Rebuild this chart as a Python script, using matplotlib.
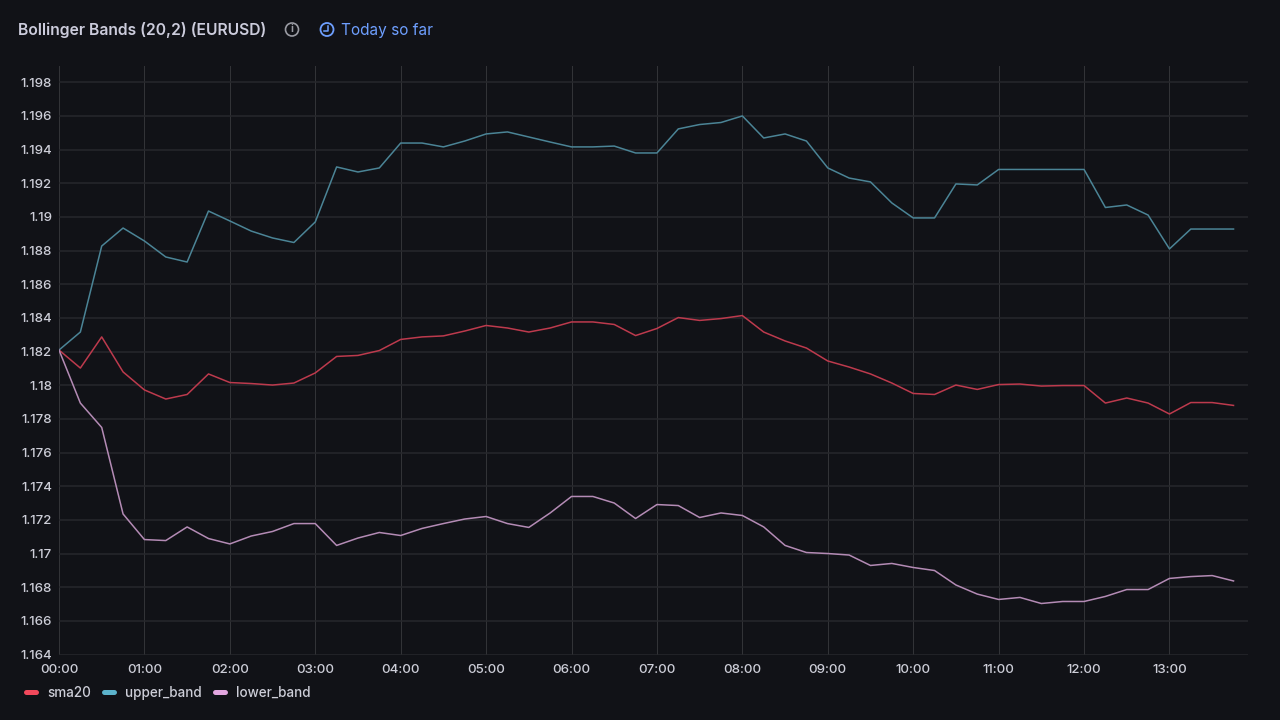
import matplotlib
matplotlib.use("Agg")
import matplotlib.pyplot as plt
from matplotlib.lines import Line2D
from matplotlib.patches import Ellipse

plt.rcParams['font.family'] = ['Inter', 'DejaVu Sans']

W, H = 1280, 720
BG = "#111217"

# hours since midnight, one sample every 15 minutes
hours = [i * 0.25 for i in range(56)]

sma20 = [1.18209, 1.18102, 1.18287, 1.18079, 1.17972, 1.17918, 1.17945, 1.18067,
         1.18016, 1.18010, 1.18001, 1.18013, 1.18073, 1.18171, 1.18177, 1.18206,
         1.18272, 1.18287, 1.18293, 1.18322, 1.18355, 1.18340, 1.18316, 1.18340,
         1.18376, 1.18376, 1.18361, 1.18295, 1.18337, 1.18402, 1.18385, 1.18396,
         1.18414, 1.18316, 1.18263, 1.18221, 1.18144, 1.18108, 1.18067, 1.18013,
         1.17951, 1.17945, 1.18001, 1.17975, 1.18004, 1.18007, 1.17995, 1.17998,
         1.17998, 1.17894, 1.17924, 1.17894, 1.17829, 1.17897, 1.17897, 1.17880]

upper_band = [1.18209, 1.18316, 1.18827, 1.18934, 1.18857, 1.18762, 1.18732, 1.19035,
              1.18976, 1.18916, 1.18875, 1.18848, 1.18970, 1.19297, 1.19267, 1.19291,
              1.19439, 1.19439, 1.19416, 1.19451, 1.19493, 1.19505, 1.19475, 1.19445,
              1.19416, 1.19416, 1.19421, 1.19380, 1.19380, 1.19523, 1.19549, 1.19561,
              1.19600, 1.19469, 1.19493, 1.19451, 1.19291, 1.19231, 1.19208, 1.19083,
              1.18994, 1.18994, 1.19196, 1.19190, 1.19282, 1.19282, 1.19282, 1.19282,
              1.19282, 1.19056, 1.19071, 1.19011, 1.18810, 1.18928, 1.18928, 1.18928]

lower_band = [1.18209, 1.17894, 1.17749, 1.17235, 1.17083, 1.17077, 1.17158, 1.17089,
              1.17057, 1.17104, 1.17131, 1.17178, 1.17178, 1.17048, 1.17092, 1.17125,
              1.17107, 1.17149, 1.17178, 1.17205, 1.17220, 1.17178, 1.17155, 1.17241,
              1.17339, 1.17339, 1.17300, 1.17208, 1.17291, 1.17285, 1.17214, 1.17241,
              1.17226, 1.17158, 1.17048, 1.17006, 1.17000, 1.16991, 1.16929, 1.16941,
              1.16917, 1.16899, 1.16813, 1.16759, 1.16727, 1.16739, 1.16703, 1.16715,
              1.16715, 1.16745, 1.16786, 1.16786, 1.16852, 1.16863, 1.16869, 1.16837]

x_ticks = list(range(14))
x_labels = [f"{h:02d}:00" for h in x_ticks]
y_ticks = [1.164, 1.166, 1.168, 1.17, 1.172, 1.174, 1.176, 1.178, 1.18, 1.182,
           1.184, 1.186, 1.188, 1.19, 1.192, 1.194, 1.196, 1.198]
y_labels = [f"{v:g}" for v in y_ticks]

series_names = ["sma20", "upper_band", "lower_band"]
line_colors = ["#bd3a4d", "#4b8496", "#b48bb5"]
legend_colors = ["#f2495c", "#5cb3cc", "#e3a6e0"]
legend_swatch_x = [23, 101, 212]
legend_text_x = [47, 125, 236]

fig = plt.figure(figsize=(W / 100, H / 100), dpi=100, facecolor=BG)

# axes placed by pixel so the panel lines up with the reference
left, right, top, bottom = 59, 1248, 66, 654.5
ax = fig.add_axes([left / W, 1 - bottom / H, (right - left) / W, (bottom - top) / H], facecolor=BG)
ax.set_xlim(0, (right - left) / 85.42)
ax.set_ylim(1.164, 1.164 + (bottom - top) / 16830)

for s in ax.spines.values():
    s.set_visible(False)

ax.set_xticks(x_ticks, x_labels)
ax.set_yticks(y_ticks, y_labels)
ax.tick_params(length=0, labelsize=9.6, labelcolor="#cdced8", pad=5)
ax.tick_params(axis="x", pad=6.5)
for lab in ax.get_xticklabels() + ax.get_yticklabels():
    lab.set_fontweight("medium")
ax.grid(axis="x", color="#323337", linewidth=0.72)
ax.grid(axis="y", color="#27282c", linewidth=1.1)
ax.set_axisbelow(True)

for vals, c, name in zip([sma20, upper_band, lower_band], line_colors, series_names):
    ax.plot(hours, vals, color=c, linewidth=1.1, label=name, solid_joinstyle="round")

# header
fig.text(18 / W, 1 - 29 / H, "Bollinger Bands (20,2) (EURUSD)", color="#ccccdc", fontsize=11.27,
         fontweight="semibold", va="center_baseline", ha="left")
fig.text(341 / W, 1 - 29 / H, "Today so far", color="#6e9fff", fontsize=11.1,
         va="center_baseline", ha="left")

# info icon
fig.add_artist(Ellipse((292 / W, 1 - 29.5 / H), 13 / W, 13 / H, transform=fig.transFigure,
                       fill=False, edgecolor="#9a9ba3", linewidth=1.2))
fig.text(292 / W, 1 - 29.5 / H, "i", color="#9a9ba3", fontsize=7.5, fontweight="bold",
         ha="center", va="center")

# clock icon
fig.add_artist(Ellipse((327 / W, 1 - 29.5 / H), 13 / W, 13 / H, transform=fig.transFigure,
                       fill=False, edgecolor="#6e9fff", linewidth=1.3))
fig.add_artist(Line2D([327.5 / W, 327.5 / W, 323.5 / W],
                      [1 - 25.5 / H, 1 - 30.5 / H, 1 - 30.5 / H],
                      transform=fig.transFigure, color="#6e9fff", linewidth=1.1))

# legend
for name, c, sx, tx in zip(series_names, legend_colors, legend_swatch_x, legend_text_x):
    fig.add_artist(Line2D([(sx + 2.5) / W, (sx + 12.5) / W], [1 - 691.5 / H] * 2,
                          transform=fig.transFigure, color=c, linewidth=3.6,
                          solid_capstyle="round"))
    fig.text(tx / W, 1 - 691.5 / H, name, color="#cdced8", fontsize=9.7,
             fontweight="medium", va="center_baseline", ha="left")

fig.savefig("out.png", dpi=100, facecolor=BG)
